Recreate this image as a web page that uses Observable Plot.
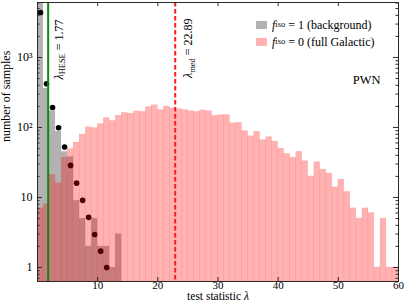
<!DOCTYPE html>
<html><head><meta charset="utf-8">
<script src="https://cdn.jsdelivr.net/npm/d3@7"></script>
<script src="https://cdn.jsdelivr.net/npm/@observablehq/plot@0.6"></script>
<style>
body{margin:0;background:#fff;}
#wrap{position:relative;width:405px;height:307px;font-family:"Liberation Serif",serif;color:#000;}
#wrap svg, #wrap svg text{font-family:"Liberation Serif",serif !important;}
.leg{position:absolute;left:256px;font-size:12px;line-height:12px;height:12px;white-space:nowrap;display:flex;align-items:center;}
.sw{display:inline-block;width:11px;height:8px;margin-right:5px;}
.leg sub{font-size:8.4px;vertical-align:-2.5px;line-height:0;}
</style></head><body><div id="wrap"></div>
<script>
// full Galactic (f_iso = 0) histogram counts, bins [k, k+1), k = 0..59
const galactic = [7, 8, 21, 16, 37, 49, 61, 79, 101, 98,
  112, 137, 124, 147, 162, 158, 170, 167, 196, 208,
  178, 200, 188, 184, 178, 171, 167, 176, 171, 147,
  150, 151, 115, 117, 89, 75, 87, 66, 73, 63,
  50, 42, 37, 45, 33, 20, 32, 25, 22, 14,
  18, 12, 7, 5, 7, 6, 1, 5, 1, 1];
// background (f_iso = 1) histogram counts, bins [k, k+1), k = 0..13 (first bin runs off the top)
const background = [9300, 361, 173, 88, 45, 38, 9, 5, 2, 5, 2, 2, 1, 3];
// expected background points
const expectedLambda = [0.5, 1.5, 2.5, 3.5, 4.5, 5.5, 6.5, 7.5, 8.5, 9.5, 10.5, 11.5];
const expectedCount = [4400, 421, 193, 99, 52.5, 28.7, 16, 9.1, 5.2, 2.96, 1.71, 1.0];
const lambdaHESE = 1.77;
const lambdaMed = 22.89;
const xTicks = [10, 20, 30, 40, 50, 60];
const yTicks = [1, 10, 100, 1000];
const yTickLabels = ["1", "10", "10²", "10³"];

const W = 405, H = 307, mL = 37, mR = 7, mT = 2, mB = 26;
const pw = W - mL - mR, ph = H - mT - mB;
const yMin = 0.63, yMax = 6100;
const serif = "Liberation Serif, serif";

const bgData = background.map((v, i) => ({x1: i, x2: i + 1, y: v}));
const galData = galactic.map((v, i) => ({x1: i, x2: i + 1, y: v}));
const dots = expectedLambda.map((x, i) => ({x, y: expectedCount[i]}));
const minorY = [];
for (const e of [-1, 0, 1, 2, 3]) for (let m = 2; m <= 9; m++) {
  const v = m * Math.pow(10, e);
  if (v >= yMin && v <= yMax) minorY.push(v);
}
const ink = "#2a2a2a";

const chart = Plot.plot({
  width: W, height: H,
  marginLeft: mL, marginRight: mR, marginTop: mT, marginBottom: mB,
  style: {fontFamily: serif, fontSize: "12px", background: "transparent", overflow: "visible"},
  x: {domain: [0, 60]},
  y: {type: "log", domain: [yMin, yMax]},
  marks: [
    Plot.rectY(bgData, {x1: "x1", x2: "x2", y1: yMin, y2: "y", fill: "black", fillOpacity: 0.3, clip: true}),
    Plot.dot(dots, {x: "x", y: "y", r: 2.8, fill: "black"}),
    Plot.rectY(galData, {x1: "x1", x2: "x2", y1: yMin, y2: "y", fill: "red", fillOpacity: 0.3,
      stroke: "red", strokeOpacity: 0.1, strokeWidth: 0.6, clip: true}),
    Plot.ruleX([lambdaHESE], {stroke: "#118811", strokeWidth: 2}),
    Plot.ruleX([lambdaMed], {stroke: "#ff1a1a", strokeWidth: 2, strokeDasharray: "4.5,2.5"}),
    Plot.text([lambdaHESE], {x: d => d, frameAnchor: "top", dy: 17, dx: 6, rotate: -90,
      textAnchor: "end", text: d => "HESE|" + d.toFixed(2), fontSize: 12, fontFamily: serif}),
    Plot.text([lambdaMed], {x: d => d, frameAnchor: "top", dy: 16, dx: 8.5, rotate: -90,
      textAnchor: "end", text: d => "med|" + d.toFixed(2), fontSize: 12, fontFamily: serif}),
    Plot.text(["PWN"], {frameAnchor: "top-right", dx: -18, dy: 73, textAnchor: "end",
      text: d => d, fontSize: 12.5, fontFamily: serif}),
    // tick marks (inward)
    Plot.tickX(xTicks, {x: d => d, insetTop: ph - 4, stroke: ink}),
    Plot.tickX(xTicks, {x: d => d, insetBottom: ph - 4, stroke: ink}),
    Plot.tickY(yTicks, {y: d => d, insetRight: pw - 5, stroke: ink}),
    Plot.tickY(yTicks, {y: d => d, insetLeft: pw - 5, stroke: ink}),
    Plot.tickY(minorY, {y: d => d, insetRight: pw - 2.5, stroke: ink}),
    Plot.tickY(minorY, {y: d => d, insetLeft: pw - 2.5, stroke: ink}),
    Plot.frame({stroke: ink}),
    Plot.axisX({ticks: xTicks, tickSize: 0, tickPadding: 0, label: null, fontSize: 11, fontFamily: serif}),
    Plot.axisY({ticks: yTicks, tickSize: 0, tickPadding: 5, label: null, fontSize: 12, fontFamily: serif,
      tickFormat: d => yTickLabels[yTicks.indexOf(d)]}),
    Plot.text(["test statistic λ"], {frameAnchor: "bottom", dy: 18.5, text: d => d, fontSize: 11.5, fontFamily: serif}),
    Plot.text(["number of samples"], {frameAnchor: "left", dx: -31, rotate: -90, text: d => d, fontSize: 12, fontFamily: serif})
  ]
});

// rich text for the rotated annotations (lambda with subscript)
d3.select(chart).selectAll("text").each(function() {
  const t = this.textContent;
  if (t.includes("|") && !this.querySelector("tspan")) {
    const [sub, val] = t.split("|");
    const el = d3.select(this);
    el.text(null);
    el.append("tspan").text("λ").attr("font-style", "italic");
    el.append("tspan").text(sub).attr("font-size", 8.4).attr("dy", 2.5);
    el.append("tspan").text(" = " + val).attr("dy", -2.5);
  }
});
// italic lambda in x label
d3.select(chart).selectAll("text").each(function() {
  if (this.textContent === "test statistic λ") {
    const el = d3.select(this);
    el.text(null);
    el.append("tspan").text("test statistic ");
    el.append("tspan").text("λ").attr("font-style", "italic");
  }
});
// force serif font on every text element
d3.select(chart).selectAll("text, g").style("font-family", "'Liberation Serif', serif");

const wrap = document.getElementById("wrap");
wrap.appendChild(chart);
const legendItems = [
  {color: "rgba(0,0,0,0.3)", val: "1", desc: "(background)", top: 18.5},
  {color: "rgba(255,0,0,0.3)", val: "0", desc: "(full Galactic)", top: 36}
];
for (const it of legendItems) {
  const d = document.createElement("div");
  d.className = "leg";
  d.style.top = it.top + "px";
  d.innerHTML = `<span class="sw" style="background:${it.color}"></span><i>f</i><sub>iso</sub>&nbsp;= ${it.val} ${it.desc}`;
  wrap.appendChild(d);
}
</script></body></html>
